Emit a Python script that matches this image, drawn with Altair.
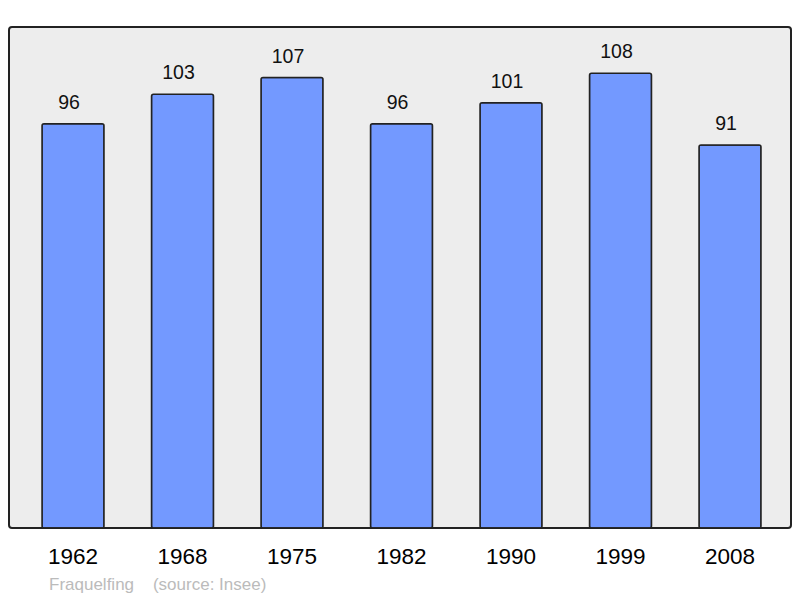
import altair as alt
import pandas as pd

years = ["1962", "1968", "1975", "1982", "1990", "1999", "2008"]
population = [96, 103, 107, 96, 101, 108, 91]
commune = "Fraquelfing"
source = "(source: Insee)"

df = pd.DataFrame({"year": years, "pop": population})

x = alt.X(
    "year:N",
    sort=years,
    scale=alt.Scale(paddingInner=0.4338, paddingOuter=0.2877, align=0.524),
    axis=alt.Axis(
        title=None, labelAngle=0, labelFontSize=22.5, labelFont="Liberation Sans",
        labelColor="#000000", labelPadding=17, ticks=False, domain=False, grid=False,
    ),
)
y = alt.Y("pop:Q", scale=alt.Scale(domain=[0, 119], nice=False, zero=True), axis=None)

bars = alt.Chart(df).mark_bar(
    color="#7399ff", stroke="#222222", strokeWidth=1.5, cornerRadius=2
).encode(x=x, y=y)

labels = alt.Chart(df).mark_text(
    baseline="alphabetic", dx=-4, dy=-15, fontSize=19.5, font="Liberation Sans", color="#111111"
).encode(x=x, y=y, text="pop:Q")

footer = alt.Chart(pd.DataFrame({"t": [commune + "\u00a0" * 4 + source]})).mark_text(
    align="left", baseline="alphabetic", fontSize=17, font="Liberation Sans", color="#bbbbbb"
).encode(x=alt.value(40), y=alt.value(563), text="t:N")

chart = alt.layer(bars, labels, footer).properties(
    width=782,
    height=501,
    padding={"left": 1, "top": 19, "right": 1, "bottom": 66},
    autosize=alt.AutoSizeParams(type="none"),
).configure_view(fill="#ededed", stroke="#222222", strokeWidth=2, cornerRadius=3)

chart.save("out.html", embed_options={"renderer": "svg", "actions": False})
